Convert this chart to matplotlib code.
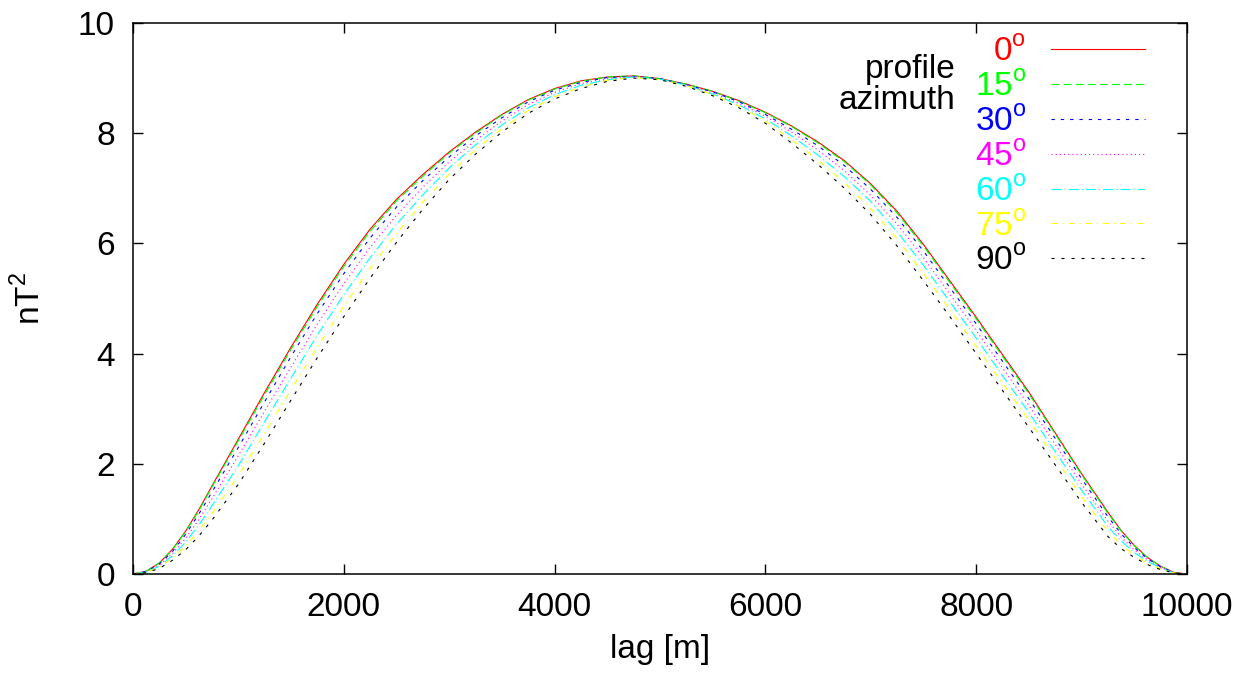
import numpy as np
import matplotlib.pyplot as plt

plt.rcParams['font.family'] = ['Liberation Sans', 'DejaVu Sans']
plt.rcParams['mathtext.fontset'] = 'custom'
plt.rcParams['mathtext.rm'] = 'Liberation Sans'
plt.rcParams['lines.scale_dashes'] = False

# lag [m]; denser near the ends where the curves bend most
lag = [0, 125, 250, 375, 500, 625, 750, 1000, 1250, 1500, 1750, 2000,
       2250, 2500, 2750, 3000, 3250, 3500, 3750, 4000, 4250, 4500, 4750,
       5000, 5250, 5500, 5750, 6000, 6250, 6500, 6750, 7000, 7250, 7500,
       7750, 8000, 8250, 8500, 8750, 9000, 9250, 9375, 9500, 9625, 9750,
       9875, 10000]

# nT^2 values, one list per profile azimuth
az0 = [0.00, 0.05, 0.20, 0.45, 0.78, 1.17, 1.60, 2.45, 3.30, 4.12, 4.90, 5.62,
       6.26, 6.80, 7.25, 7.66, 8.02, 8.34, 8.61, 8.81, 8.95, 9.02, 9.04,
       8.99, 8.89, 8.76, 8.59, 8.38, 8.13, 7.84, 7.50, 7.08, 6.58, 5.98,
       5.32, 4.66, 3.98, 3.30, 2.56, 1.82, 1.12, 0.79, 0.52, 0.30, 0.14,
       0.03, 0.00]
az15 = [0.00, 0.05, 0.20, 0.44, 0.77, 1.15, 1.58, 2.42, 3.26, 4.08, 4.86, 5.58,
        6.22, 6.77, 7.22, 7.64, 8.00, 8.33, 8.60, 8.80, 8.94, 9.02, 9.04,
        8.99, 8.89, 8.76, 8.58, 8.37, 8.12, 7.82, 7.48, 7.06, 6.55, 5.95,
        5.29, 4.63, 3.95, 3.27, 2.54, 1.80, 1.10, 0.78, 0.51, 0.30, 0.14,
        0.03, 0.00]
az30 = [0.00, 0.045, 0.18, 0.41, 0.72, 1.09, 1.49, 2.30, 3.13, 3.95, 4.73, 5.45,
        6.10, 6.66, 7.14, 7.57, 7.95, 8.28, 8.57, 8.78, 8.92, 9.01, 9.03,
        8.99, 8.88, 8.75, 8.57, 8.34, 8.07, 7.77, 7.41, 6.98, 6.47, 5.86,
        5.20, 4.54, 3.86, 3.18, 2.46, 1.73, 1.04, 0.73, 0.48, 0.28, 0.13,
        0.03, 0.00]
az45 = [0.00, 0.04, 0.16, 0.37, 0.65, 0.99, 1.37, 2.15, 2.96, 3.76, 4.54, 5.27,
        5.93, 6.51, 7.02, 7.48, 7.87, 8.22, 8.52, 8.74, 8.90, 8.99, 9.03,
        8.98, 8.88, 8.73, 8.54, 8.31, 8.02, 7.69, 7.32, 6.87, 6.35, 5.74,
        5.08, 4.42, 3.74, 3.06, 2.35, 1.63, 0.96, 0.67, 0.44, 0.26, 0.12,
        0.03, 0.00]
az60 = [0.00, 0.035, 0.14, 0.33, 0.58, 0.89, 1.24, 1.97, 2.77, 3.56, 4.34, 5.07,
        5.74, 6.35, 6.88, 7.37, 7.79, 8.15, 8.46, 8.70, 8.87, 8.97, 9.02,
        8.98, 8.87, 8.71, 8.51, 8.26, 7.95, 7.60, 7.21, 6.76, 6.21, 5.60,
        4.94, 4.28, 3.60, 2.93, 2.22, 1.52, 0.86, 0.60, 0.39, 0.23, 0.11,
        0.02, 0.00]
az75 = [0.00, 0.03, 0.12, 0.29, 0.51, 0.79, 1.10, 1.79, 2.56, 3.35, 4.12, 4.86,
        5.55, 6.18, 6.75, 7.26, 7.70, 8.08, 8.41, 8.66, 8.84, 8.96, 9.01,
        8.97, 8.86, 8.70, 8.49, 8.22, 7.88, 7.51, 7.10, 6.63, 6.08, 5.45,
        4.80, 4.13, 3.46, 2.79, 2.10, 1.40, 0.77, 0.53, 0.34, 0.20, 0.09,
        0.02, 0.00]
az90 = [0.00, 0.025, 0.10, 0.25, 0.44, 0.69, 0.98, 1.63, 2.38, 3.16, 3.93, 4.67,
        5.37, 6.02, 6.62, 7.16, 7.62, 8.02, 8.36, 8.62, 8.81, 8.94, 9.00,
        8.97, 8.85, 8.68, 8.46, 8.18, 7.82, 7.43, 7.00, 6.52, 5.95, 5.32,
        4.67, 4.00, 3.33, 2.66, 1.98, 1.30, 0.68, 0.46, 0.30, 0.17, 0.08,
        0.02, 0.00]

series = [az0, az15, az30, az45, az60, az75, az90]
labels = ['0', '15', '30', '45', '60', '75', '90']
colors = ['#ff0000', '#00ff00', '#0000ff', '#ff00ff', '#00ffff', '#ffff00', '#000000']
styles = ['-', (0, (5.8, 2.9)), (0, (2.4, 4.3)), (0, (0.8, 2.2)),
          (0, (7.2, 2.2, 0.8, 2.2)), (0, (4.3, 3.6, 0.8, 3.6)), (0, (2.2, 5.0))]

fig = plt.figure(figsize=(12.5, 6.84), dpi=100)
ax = fig.add_axes([0.1064, 0.1608, 0.8432, 0.8056])

for vals, lab, col, ls in zip(series, labels, colors, styles):
    ax.plot(lag, vals, color=col, linestyle=ls, linewidth=0.8,
            label=lab + r'$^{\mathrm{o}}$')

ax.set_xlim(0, 10000)
ax.set_ylim(0, 10)
ax.set_xticks(np.arange(0, 10001, 2000))
ax.set_yticks(np.arange(0, 11, 2))
ax.tick_params(direction='in', length=7.2, width=1.0, top=True, right=True,
               labelsize=24, pad=13)
for s in ax.spines.values():
    s.set_linewidth(1.1)

ax.set_xlabel('lag [m]', fontsize=24, labelpad=8)
ax.set_ylabel(r'nT$^{2}$', fontsize=24, labelpad=22)

leg = ax.legend(loc='upper right', bbox_to_anchor=(0.982, 1.017),
                markerfirst=False, frameon=False, fontsize=24,
                labelcolor='linecolor', handlelength=2.8, handletextpad=0.75,
                labelspacing=0.115, borderpad=0.2)

ax.text(0.780, 0.888, 'profile\nazimuth', transform=ax.transAxes,
        ha='right', va='center', multialignment='right', fontsize=24,
        linespacing=1.0)

fig.savefig('out.png', dpi=100)
